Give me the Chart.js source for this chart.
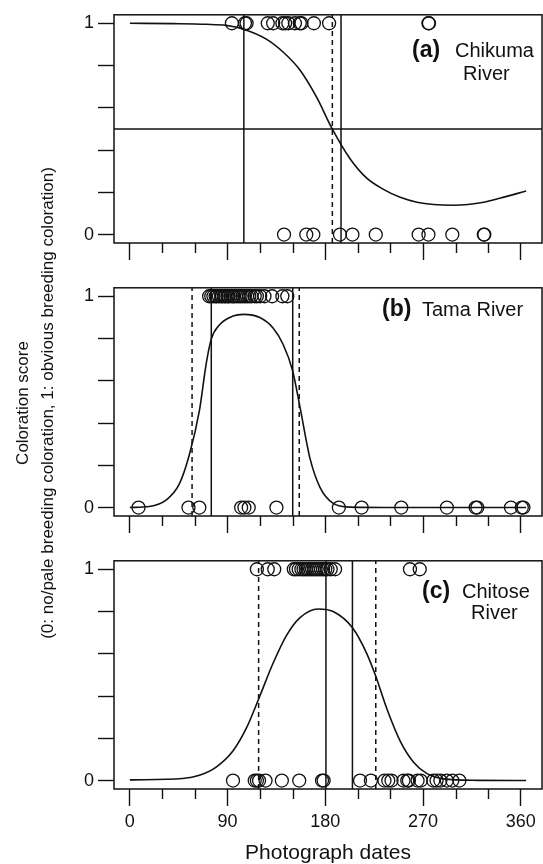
<!doctype html>
<html lang="en">

<head>
  <meta charset="UTF-8" />
  <script src="https://cdn.jsdelivr.net/npm/chart.js@4.4.1/dist/chart.umd.min.js"></script>
  <style>
    body { margin: 0; background: #fff; }
    #wrap { position: relative; width: 543px; height: 864px; font-family: "Liberation Sans", Arial, sans-serif; color: #111; }
    #wrap canvas { position: absolute; left: 0; }
    .ytitle { position: absolute; left: -265.5px; top: 378px; width: 600px; height: 50px; line-height: 25px; font-size: 17px; text-align: center; transform: rotate(-90deg); white-space: nowrap; }
  </style>
</head>

<body>
  <div id="wrap">
    <canvas id="chartA" width="543" height="275" style="top:0"></canvas>
    <canvas id="chartB" width="543" height="275" style="top:273px"></canvas>
    <canvas id="chartC" width="543" height="318" style="top:546px"></canvas>
    <div class="ytitle">Coloration score<br>(0: no/pale breeding coloration, 1: obvious breeding coloration)</div>
  </div>
  <script>
    // axis ticks
    const xTicks = [0, 30, 60, 90, 120, 150, 180, 210, 240, 270, 300, 330, 360];
    const yTicks = [0, 0.2, 0.4, 0.6, 0.8, 1];

    // (a) Chikuma River
    const aOnes = [94, 106, 107.5, 127, 132, 140.5, 143, 146, 152, 156.5, 158, 169.5, 183.5, 275, 275.5];
    const aZeros = [142, 162.5, 169, 193.5, 205, 226.5, 266, 275, 297, 326, 326.5];
    const aCurveX = [0, 40, 70, 88.7, 104.8, 125.7, 141.1, 156.5, 172, 186.4, 202.8, 218.2, 233.6, 249, 264.4, 279.8, 298.3, 326, 341.5, 365];
    const aCurveY = [1, 0.998, 0.995, 0.99, 0.972, 0.925, 0.864, 0.78, 0.65, 0.5, 0.359, 0.267, 0.214, 0.176, 0.153, 0.142, 0.139, 0.153, 0.173, 0.206];
    const aSolid = [105, 194.5];
    const aDashed = [186.5];
    const aHoriz = [0.5];

    // (b) Tama River
    const bOnes = [73, 75, 77, 79, 80, 82, 84, 85, 87, 88, 90, 91, 93, 95, 96, 98, 100, 102, 104, 106, 108, 110, 112, 115, 117, 120, 124, 131, 140.5, 145];
    const bZeros = [8, 54, 64, 102.5, 105.5, 109.5, 135, 192.5, 213.5, 250, 292, 318.5, 320, 351, 361, 362.5];
    const bCurveX = [0, 17.9, 33.3, 45.6, 54.8, 64.1, 70.3, 74.9, 82.6, 94.9, 104.8, 119.6, 131.9, 141.1, 149.8, 156.5, 165.8, 175, 187.3, 202.8, 250, 300, 365];
    const bCurveY = [0, 0.005, 0.035, 0.112, 0.25, 0.46, 0.68, 0.796, 0.865, 0.906, 0.914, 0.899, 0.85, 0.773, 0.65, 0.481, 0.235, 0.097, 0.02, 0.002, 0, 0, 0];
    const bSolid = [75, 150];
    const bDashed = [57.3, 156];

    // (c) Chitose River
    const cOnes = [117, 127, 133, 151, 153, 155.5, 158, 160, 162, 164, 166, 168, 170, 172, 174, 176, 178, 180, 182, 185, 189, 258, 267];
    const cZeros = [95, 115, 117, 119, 125, 140, 156, 177, 178.5, 212, 222, 234.5, 238, 241, 252, 255.5, 257, 265, 268, 279.5, 282.5, 286, 292, 297, 303.5];
    const cCurveX = [0, 48.7, 64.1, 79.5, 94.9, 107.3, 118.6, 131.9, 144.2, 156.5, 173.5, 187.3, 204.9, 218.2, 226.5, 236.7, 249, 261.3, 273.7, 289, 320, 365];
    const cCurveY = [0.003, 0.01, 0.025, 0.064, 0.14, 0.248, 0.386, 0.555, 0.686, 0.77, 0.812, 0.8, 0.724, 0.601, 0.494, 0.34, 0.187, 0.087, 0.033, 0.008, 0.001, 0];
    const cSolid = [180.6, 205];
    const cDashed = [118.6, 226.5];

    const FONT = '"Liberation Sans", Arial, sans-serif';
    const INK = '#111';
    const X_MIN = -14.6, X_MAX = 379.6, Y_MIN = -0.04, Y_MAX = 1.04;

    const isMajor = function (v) { return v % 90 === 0; };

    const boxPlugin = {
      id: 'box',
      afterDatasetsDraw(chart) {
        const a = chart.chartArea, c = chart.ctx;
        c.save();
        c.strokeStyle = INK;
        c.lineWidth = 1.5;
        c.strokeRect(a.left, a.top, a.right - a.left, a.bottom - a.top);
        // short minor ticks under the box
        const sx = chart.scales.x;
        c.lineWidth = 1.4;
        c.beginPath();
        xTicks.filter(function (v) { return !isMajor(v); }).forEach(function (v) {
          const px = Math.round(sx.getPixelForValue(v)) + 0.5;
          c.moveTo(px, a.bottom);
          c.lineTo(px, a.bottom + 10);
        });
        c.stroke();
        c.restore();
      }
    };

    const labelPlugin = {
      id: 'panelLabel',
      afterDraw(chart, args, opts) {
        const c = chart.ctx;
        c.save();
        c.fillStyle = INK;
        c.textBaseline = 'alphabetic';
        (opts.items || []).forEach(function (it) {
          c.font = (it.bold ? 'bold 23px ' : '20px ') + FONT;
          c.fillText(it.text, it.x, it.y);
        });
        c.restore();
      }
    };

    function vLines(xs, dash) {
      return xs.map(function (v) {
        return {
          type: 'line', data: [{ x: v, y: Y_MIN }, { x: v, y: Y_MAX }],
          borderColor: INK, borderWidth: 1.5, borderDash: dash, pointRadius: 0, fill: false
        };
      });
    }

    function hLines(ys) {
      return ys.map(function (v) {
        return {
          type: 'line', data: [{ x: X_MIN, y: v }, { x: X_MAX, y: v }],
          borderColor: INK, borderWidth: 1.5, pointRadius: 0, fill: false
        };
      });
    }

    function dots(xs, y) {
      return {
        type: 'scatter', data: xs.map(function (v) { return { x: v, y: y }; }),
        pointRadius: 6.5, pointBorderWidth: 1.3, borderColor: INK, backgroundColor: 'rgba(0,0,0,0)', pointHoverRadius: 6.5
      };
    }

    function panel(id, p) {
      const ctx = document.getElementById(id).getContext('2d');
      const curve = {
        type: 'line',
        data: p.cx.map(function (v, i) { return { x: v, y: p.cy[i] }; }),
        borderColor: INK, borderWidth: 1.6, pointRadius: 0, fill: false,
        cubicInterpolationMode: 'monotone'
      };
      const datasets = [curve]
        .concat(hLines(p.horiz || []))
        .concat(vLines(p.solid, []))
        .concat(vLines(p.dashed, [5, 4]))
        .concat([dots(p.ones, 1), dots(p.zeros, 0)]);

      new Chart(ctx, {
        type: 'scatter',
        data: { datasets: datasets },
        plugins: [boxPlugin, labelPlugin],
        options: {
          responsive: false,
          animation: false,
          events: [],
          layout: { autoPadding: false, padding: { top: 9, right: 1, left: 0, bottom: 0 } },
          plugins: {
            legend: { display: false },
            tooltip: { enabled: false },
            panelLabel: { items: p.labels }
          },
          scales: {
            x: {
              type: 'linear', min: X_MIN, max: X_MAX,
              afterBuildTicks: function (s) { s.ticks = xTicks.map(function (v) { return { value: v }; }); },
              afterFit: function (s) { s.height = p.axisH; },
              border: { display: false },
              grid: {
                drawOnChartArea: false, tickLength: 17, tickWidth: 1.4,
                tickColor: function (c) { return c.tick && isMajor(c.tick.value) ? INK : 'rgba(0,0,0,0)'; }
              },
              ticks: {
                display: !!p.showX, autoSkip: false, maxRotation: 0, padding: 5, color: INK,
                font: { family: FONT, size: 18 },
                callback: function (v) { return isMajor(v) ? String(v) : ''; }
              },
              title: {
                display: !!p.showX, text: 'Photograph dates', color: INK,
                font: { family: FONT, size: 21, lineHeight: 1 }, padding: { top: 0, bottom: 0 }
              }
            },
            y: {
              min: Y_MIN, max: Y_MAX,
              afterBuildTicks: function (s) { s.ticks = yTicks.map(function (v) { return { value: v }; }); },
              afterFit: function (s) { s.width = 114; },
              border: { display: false },
              grid: { drawOnChartArea: false, tickLength: 16, tickColor: INK, tickWidth: 1.4 },
              ticks: {
                padding: 4, color: INK, font: { family: FONT, size: 18 },
                callback: function (v) { return (v === 0 || v === 1) ? String(v) : ''; }
              }
            }
          }
        }
      });
    }

    panel('chartA', {
      ones: aOnes, zeros: aZeros, cx: aCurveX, cy: aCurveY,
      solid: aSolid, dashed: aDashed, horiz: aHoriz, axisH: 275 - 9 - 234,
      labels: [
        { text: '(a)', bold: true, x: 412, y: 57 },
        { text: 'Chikuma', x: 455, y: 57 },
        { text: 'River', x: 463, y: 80 }
      ]
    });
    panel('chartB', {
      ones: bOnes, zeros: bZeros, cx: bCurveX, cy: bCurveY,
      solid: bSolid, dashed: bDashed, axisH: 275 - 9 - 234,
      labels: [
        { text: '(b)', bold: true, x: 382, y: 43 },
        { text: 'Tama River', x: 422, y: 43 }
      ]
    });
    panel('chartC', {
      ones: cOnes, zeros: cZeros, cx: cCurveX, cy: cCurveY,
      solid: cSolid, dashed: cDashed, axisH: 318 - 9 - 234, showX: true,
      labels: [
        { text: '(c)', bold: true, x: 422, y: 52 },
        { text: 'Chitose', x: 462, y: 52 },
        { text: 'River', x: 471, y: 73 }
      ]
    });
  </script>
</body>

</html>
